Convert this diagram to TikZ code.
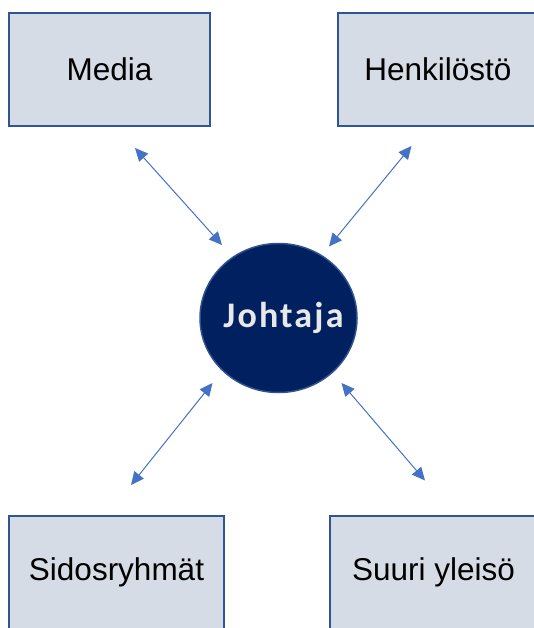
\documentclass[tikz,border=0pt]{standalone}
\usepackage{fontspec}
\setmainfont{Liberation Sans}
\newfontfamily\leadfont[LetterSpace=6]{Carlito}
\definecolor{BoxFill}{HTML}{D6DCE5}
\definecolor{BoxLine}{HTML}{2F5597}
\definecolor{LeadFill}{HTML}{002060}
\definecolor{LeadLine}{HTML}{2F528F}
\definecolor{LinkBlue}{HTML}{4472C4}
\usetikzlibrary{arrows.meta,shapes.geometric}

\begin{document}
\begin{tikzpicture}[x=1pt,y=-1pt,
  party/.style={rectangle,draw=BoxLine,line width=2pt,fill=BoxFill,
    minimum height=113pt,inner sep=0pt,font=\fontsize{31.5}{36}\selectfont},
  lead/.style={ellipse,draw=LeadLine,line width=1.5pt,fill=LeadFill,
    minimum width=157pt,minimum height=149pt,inner sep=0pt},
  leadtext/.style={text=black!9,font=\leadfont\bfseries\fontsize{36}{40}\selectfont},
  link/.style={{Triangle[length=13pt,width=12pt]}-{Triangle[length=13pt,width=12pt]},
    LinkBlue,line width=1pt}]
\useasboundingbox (0,0) rectangle (534,628);
\clip (0,0) rectangle (534,628);
% center
\node[lead,label={[leadtext,xshift=5pt]center:Johtaja}] (johtaja) at (278.5,318) {};
% the four groups
\node[party,minimum width=201pt] (media) at (109.5,69.5) {Media};
\node[party,minimum width=201pt] (henk) at (438,69.5) {Henkilöstö};
\node[party,minimum width=215pt] (sidos) at (116.5,572.5) {Sidosryhmät};
\node[party,minimum width=207pt] (suuri) at (433.5,572.5) {Suuri yleisö};
% arrow ends
\coordinate (m1) at (135,148);   \coordinate (m2) at (222,245);
\coordinate (h1) at (411.5,146); \coordinate (h2) at (329,246.5);
\coordinate (s1) at (212.5,383); \coordinate (s2) at (131,485);
\coordinate (y1) at (341.5,383); \coordinate (y2) at (425,480.5);
\draw[link] (m1) -- (m2);
\draw[link] (h1) -- (h2);
\draw[link] (s1) -- (s2);
\draw[link] (y1) -- (y2);
\end{tikzpicture}
\end{document}
